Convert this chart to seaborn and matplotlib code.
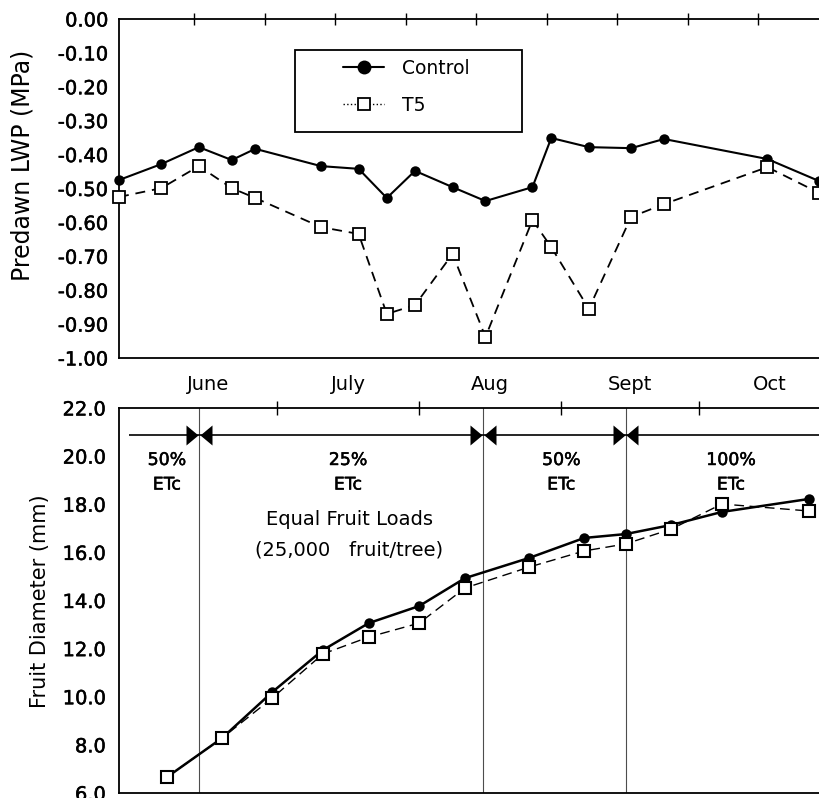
import numpy as np
import pandas as pd
import matplotlib
matplotlib.use("Agg")
import matplotlib.pyplot as plt
import matplotlib.patheffects as pe
import seaborn as sns
from matplotlib.lines import Line2D
from matplotlib.patches import Rectangle
from matplotlib.ticker import FixedLocator, MultipleLocator, FuncFormatter

# ---- Predawn leaf water potential (MPa) by day of year ----
lwp_doy = [149, 158, 166, 173, 178, 192, 200, 206, 212, 220, 227, 237, 241, 249, 258, 265, 287, 298]
lwp_control = [-0.475, -0.428, -0.378, -0.416, -0.383, -0.434, -0.442, -0.528, -0.448,
               -0.496, -0.537, -0.496, -0.351, -0.378, -0.381, -0.354, -0.413, -0.478]
lwp_t5 = [-0.525, -0.499, -0.434, -0.499, -0.528, -0.614, -0.634, -0.870, -0.844,
          -0.693, -0.938, -0.593, -0.673, -0.855, -0.584, -0.546, -0.437, -0.513]

# ---- Fruit diameter (mm) by day of year ----
fd_doy = [158, 170, 181, 192, 202, 213, 223, 237, 249, 258, 268, 279, 298]
fd_control = [6.66, 8.28, 10.20, 11.94, 13.06, 13.77, 14.93, 15.77, 16.60, 16.76, 17.14, 17.68, 18.22]
fd_t5 = [6.66, 8.28, 9.95, 11.78, 12.48, 13.06, 14.52, 15.39, 16.06, 16.35, 16.97, 18.01, 17.72]

series_names = ["Control", "T5"]

# ---- calendar / irrigation schedule ----
month_names = ["June", "July", "Aug", "Sept", "Oct"]
month_starts = [152, 182, 213, 244, 274, 305]
lwp_ticks = [165, 180, 195, 210, 225, 240, 255, 270, 285]

irrigation_changes = [165, 227, 258]
irrigation_pct = ["50%", "25%", "50%", "100%"]
irrigation_centers = [158, 197.5, 244, 281]
load_text = ["Equal Fruit Loads", "(25,000   fruit/tree)"]

lwp = pd.DataFrame({"doy": lwp_doy, "Control": lwp_control, "T5": lwp_t5})
fd = pd.DataFrame({"doy": fd_doy, "Control": fd_control, "T5": fd_t5})

sns.set_style("white")
plt.rcParams.update({
    "font.family": ["DejaVu Sans"],
    "axes.unicode_minus": False,
    "axes.edgecolor": "black",
    "axes.labelcolor": "black",
    "text.color": "black",
    "axes.linewidth": 1.3,
    "xtick.color": "black",
    "ytick.color": "black",
})

# slightly heavier strokes for the small numeric labels
heavy = [pe.withStroke(linewidth=0.35, foreground="black")]

W, H = 820, 798
fig = plt.figure(figsize=(W / 100, H / 100), dpi=100)
ax1 = fig.add_axes([119 / W, 1 - 358 / H, 701 / W, 339 / H])
ax2 = fig.add_axes([119 / W, 1 - 793 / H, 701 / W, 385 / H])

# ================= top panel: predawn LWP =================
sns.lineplot(data=lwp, x="doy", y="Control", ax=ax1, color="black", lw=1.5,
             marker="o", markersize=7.5, markeredgewidth=0, clip_on=False, zorder=3)
sns.lineplot(data=lwp, x="doy", y="T5", ax=ax1, color="black", lw=1.3,
             linestyle=(0, (5.5, 3.8)), marker="s", markersize=8.5,
             markerfacecolor="white", markeredgecolor="black", markeredgewidth=1.3,
             clip_on=False, zorder=4)

ax1.set_xlim(149.0, 298.2)
ax1.set_ylim(-1.0, 0.0)
ax1.xaxis.tick_top()
ax1.xaxis.set_major_locator(FixedLocator(lwp_ticks))
ax1.set_xticklabels([])
ax1.yaxis.set_major_locator(MultipleLocator(0.1))
ax1.yaxis.set_major_formatter(FuncFormatter(lambda v, p: "0.00" if abs(v) < 1e-9 else f"{v:.2f}"))
ax1.tick_params(axis="x", direction="inout", length=8, width=1.0, top=True, bottom=False)
ax1.tick_params(axis="y", direction="inout", length=8.5, width=1.2, pad=3.6, labelsize=14)
ax1.spines["right"].set_visible(False)
ax1.set_xlabel("")
ax1.set_ylabel("Predawn LWP (MPa)", fontsize=17)
ax1.yaxis.label.set_verticalalignment("center")
ax1.yaxis.set_label_coords(-0.137, 0.569)

handles = [
    Line2D([], [], color="black", lw=1.5, marker="o", markersize=10, markeredgewidth=0),
    Line2D([], [], color="black", lw=1.0, linestyle=":", marker="s", markersize=8.5,
           markerfacecolor="white", markeredgecolor="black", markeredgewidth=1.3),
]
ax1.legend(handles, series_names, loc="upper left", bbox_to_anchor=(0.3195, 0.882),
           frameon=False, fontsize=13.5, handlelength=2.2, handletextpad=0.96,
           labelspacing=0.95, borderpad=0, borderaxespad=0)
ax1.add_patch(Rectangle((0.2511, 0.6667), 0.3238, 0.2419, transform=ax1.transAxes,
                        fill=False, edgecolor="black", lw=1.3, zorder=5))

# ================= bottom panel: fruit diameter =================
sns.lineplot(data=fd, x="doy", y="Control", ax=ax2, color="black", lw=1.8,
             marker="o", markersize=7.5, markeredgewidth=0, clip_on=False, zorder=3)
sns.lineplot(data=fd, x="doy", y="T5", ax=ax2, color="black", lw=1.0,
             linestyle=(0, (7, 4)), marker="s", markersize=9,
             markerfacecolor="white", markeredgecolor="black", markeredgewidth=1.5,
             clip_on=False, zorder=4)

ax2.set_xlim(147.55, 300.4)
ax2.set_ylim(6.0, 22.0)
ax2.xaxis.tick_top()
ax2.xaxis.set_major_locator(FixedLocator(month_starts[1:-1]))
ax2.set_xticklabels([])
ax2.yaxis.set_major_locator(MultipleLocator(2))
ax2.yaxis.set_minor_locator(MultipleLocator(1))
ax2.yaxis.set_major_formatter(FuncFormatter(lambda v, p: f"{v:.1f}"))
ax2.tick_params(axis="x", direction="inout", length=10, width=1.0, top=True, bottom=False)
ax2.tick_params(axis="y", which="major", direction="inout", length=10, width=1.2, pad=4.5, labelsize=14)
ax2.tick_params(axis="y", which="minor", direction="inout", length=7, width=1.2)
ax2.spines["right"].set_visible(False)
ax2.set_xlabel("")
ax2.set_ylabel("Fruit Diameter (mm)", fontsize=15)
ax2.yaxis.label.set_verticalalignment("center")
ax2.yaxis.set_label_coords(-0.113, 0.499)

for lab in ax1.get_yticklabels() + ax2.get_yticklabels():
    lab.set_path_effects(heavy)

# month names centred over each month
xt = ax2.get_xaxis_transform()
for name, a, b in zip(month_names, month_starts[:-1], month_starts[1:]):
    ax2.text((a + b) / 2, 1.06, name, transform=xt, ha="center", va="center",
             fontsize=14, clip_on=False)

# irrigation schedule bracket
bracket_y = 20.88
ax2.hlines(bracket_y, 149.7, 300.4, color="black", lw=1.2, zorder=2)
right_tri = [(-0.6, -1.0), (0.6, 0.0), (-0.6, 1.0), (-0.6, -1.0)]
left_tri = [(0.6, -1.0), (-0.6, 0.0), (0.6, 1.0), (0.6, -1.0)]
for c in irrigation_changes:
    ax2.axvline(c, color="0.3", lw=0.8, zorder=1)
    ax2.plot([c - 1.5], [bracket_y], marker=right_tri, markersize=14.4,
             color="black", markeredgewidth=0, linestyle="none", zorder=5)
    ax2.plot([c + 1.5], [bracket_y], marker=left_tri, markersize=14.4,
             color="black", markeredgewidth=0, linestyle="none", zorder=5)

for pct, xc in zip(irrigation_pct, irrigation_centers):
    ax2.text(xc, 19.84, pct, ha="center", va="center", fontsize=12.5, path_effects=heavy)
    ax2.text(xc, 18.82, "ETc", ha="center", va="center", fontsize=12.5, path_effects=heavy)

ax2.text(197.8, 17.35, load_text[0], ha="center", va="center", fontsize=14)
ax2.text(197.8, 16.10, load_text[1], ha="center", va="center", fontsize=14)

fig.savefig("out.png", dpi=100)
